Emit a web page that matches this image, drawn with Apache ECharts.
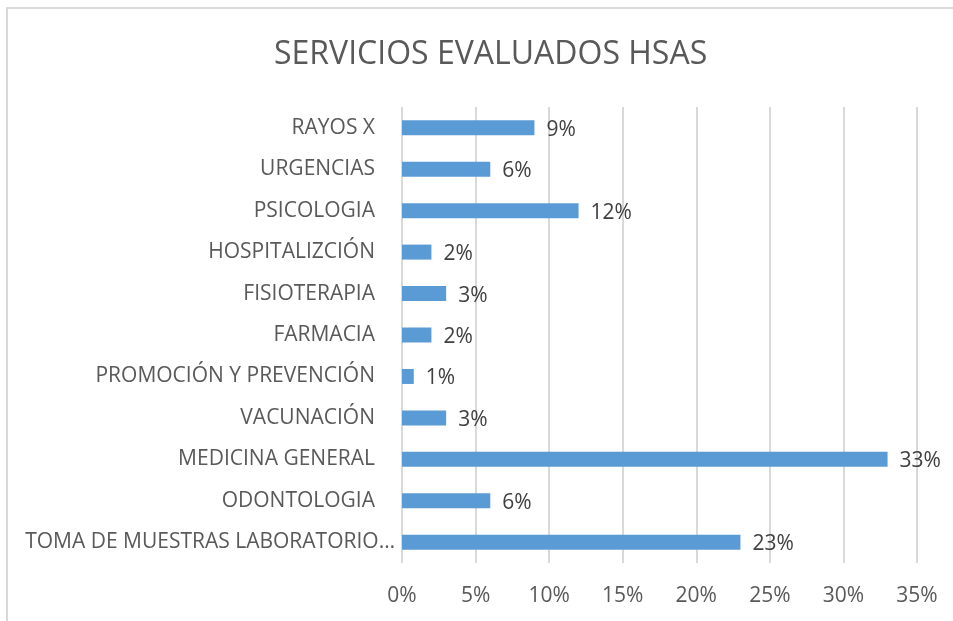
<!DOCTYPE html>
<html>
<head>
<meta charset="utf-8">
<script src="https://cdn.jsdelivr.net/npm/echarts@6/dist/echarts.min.js"></script>
<style>
  html, body { margin: 0; padding: 0; background: #fff; }
  #chart { width: 953px; height: 621px; }
</style>
</head>
<body>
<div id="chart"></div>
<script>
// servicios, de arriba hacia abajo
let categories = ['RAYOS X', 'URGENCIAS', 'PSICOLOGIA', 'HOSPITALIZCIÓN', 'FISIOTERAPIA', 'FARMACIA',
    'PROMOCIÓN Y PREVENCIÓN', 'VACUNACIÓN', 'MEDICINA GENERAL', 'ODONTOLOGIA', 'TOMA DE MUESTRAS LABORATORIO…'];
let values = [9, 6, 12, 2, 3, 2, 0.8, 3, 33, 6, 23];
let xTicks = [0, 5, 10, 15, 20, 25, 30, 35];

let myChart = echarts.init(document.getElementById('chart'));
let font = 'Open Sans';
let option = {
    animation: false,
    title: {
        text: 'SERVICIOS EVALUADOS HSAS',
        left: 269,
        top: 34,
        textStyle: { color: '#595959', fontSize: 32, fontWeight: 'normal', fontFamily: font }
    },
    graphic: [{
        type: 'rect',
        shape: { x: 7, y: 8, width: 960, height: 630 },
        style: { fill: 'none', stroke: '#d9d9d9', lineWidth: 2 },
        silent: true
    }],
    grid: { left: 402, right: 36, top: 107, bottom: 58 },
    xAxis: {
        type: 'value',
        min: xTicks[0],
        max: xTicks[xTicks.length - 1],
        interval: 5,
        axisLine: { show: false },
        axisTick: { show: false },
        splitLine: { lineStyle: { color: '#d9d9d9', width: 2 } },
        axisLabel: {
            color: '#595959', fontSize: 21, fontFamily: font, margin: 23,
            formatter: '{value}%'
        }
    },
    yAxis: {
        type: 'category',
        inverse: true,
        data: categories,
        axisLine: { show: false },
        axisTick: { show: false },
        axisLabel: {
            color: '#595959', fontSize: 21, fontFamily: font, margin: 27,
            // la etiqueta recortada queda más cerca del eje
            formatter: function (v) {
                return v.endsWith('…') ? '{cut|' + v + '}' : v;
            },
            rich: {
                cut: { color: '#595959', fontSize: 21, fontFamily: font, padding: [0, -20, 0, 0] }
            }
        }
    },
    series: [{
        type: 'bar',
        data: values,
        barWidth: 15,
        itemStyle: { color: '#5b9bd5' },
        label: {
            show: true,
            position: 'right',
            distance: 12,
            offset: [0, 2],
            color: '#404040',
            fontSize: 21,
            fontFamily: font,
            formatter: function (p) { return Math.round(p.value) + '%'; }
        }
    }]
};
myChart.setOption(option);
</script>
</body>
</html>
